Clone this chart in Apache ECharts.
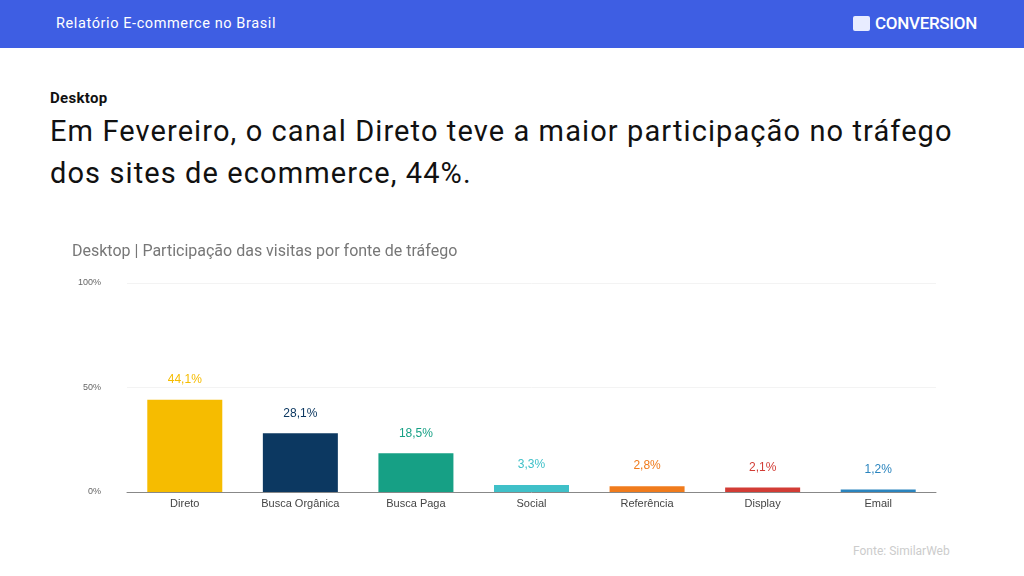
<!DOCTYPE html>
<html><head><meta charset="utf-8">
<script src="https://cdn.jsdelivr.net/npm/echarts@6/dist/echarts.min.js"></script>
<style>
body{margin:0;width:1024px;height:576px;background:#fff;font-family:Roboto,"Noto Sans",sans-serif;position:relative;overflow:hidden}
#hdr{position:absolute;left:0;top:0;width:1024px;height:48px;background:#3E5EE3}
#hdr .t{position:absolute;left:56px;top:15px;color:#fff;font-size:14.5px;letter-spacing:0.6px}
#hdr .logo{position:absolute;left:853px;top:13px;color:#fff;font-size:17px;font-weight:500;letter-spacing:-0.3px}
#hdr .logo span{display:inline-block;width:17px;height:15px;background:#e8ecff;border-radius:2px;vertical-align:-2px;margin-right:5px}
#sub{position:absolute;left:50px;top:89px;font-size:15px;font-weight:bold;color:#111;letter-spacing:0.3px}
#ttl{position:absolute;left:50px;top:110px;font-size:29px;line-height:42px;color:#111;letter-spacing:1.1px}
#src{position:absolute;left:853px;top:544px;font-size:12px;color:#ccc}
#c{position:absolute;left:0;top:220px;width:1024px;height:300px}
</style></head><body>
<div id="hdr"><div class="t">Relatório E-commerce no Brasil</div><div class="logo"><span></span>CONVERSION</div></div>
<div id="sub">Desktop</div>
<div id="ttl">Em Fevereiro, o canal Direto teve a maior participação no tráfego<br>dos sites de ecommerce, 44%.</div>
<div id="src">Fonte: SimilarWeb</div>
<div id="c"></div>
<script>
const categories=["Direto","Busca Orgânica","Busca Paga","Social","Referência","Display","Email"];
const values=[44.1,28.1,18.5,3.3,2.8,2.1,1.2];
const colors=["#F6BC00","#0C3861","#16A085","#3FC0C8","#F07B1C","#D23C35","#2A84BE"];
const yTicks=[0,50,100];
const ch=echarts.init(document.getElementById('c'));
ch.setOption({
 title:{text:"Desktop | Participação das visitas por fonte de tráfego",left:67,top:19,textStyle:{fontSize:16,fontWeight:'normal',color:'#777',fontFamily:'Roboto'}},
 grid:{left:127,right:88,top:63,bottom:28},
 xAxis:{type:'category',data:categories,axisTick:{show:false},axisLine:{lineStyle:{color:'#888'}},axisLabel:{color:'#444',fontSize:11,margin:6}},
 yAxis:{type:'value',min:0,max:100,interval:50,axisLabel:{formatter:v=>yTicks.includes(v)?v+'%':'',color:'#666',fontSize:9,margin:26},splitLine:{lineStyle:{color:'#f3f3f3'}}},
 series:[{type:'bar',barWidth:75,animation:false,
  data:values.map((v,i)=>({value:v,itemStyle:{color:colors[i]},label:{color:colors[i]}})),
  label:{show:true,position:'top',distance:14,fontSize:12,formatter:p=>p.value.toFixed(1).replace('.',',')+'%'}}]
});
</script></body></html>
